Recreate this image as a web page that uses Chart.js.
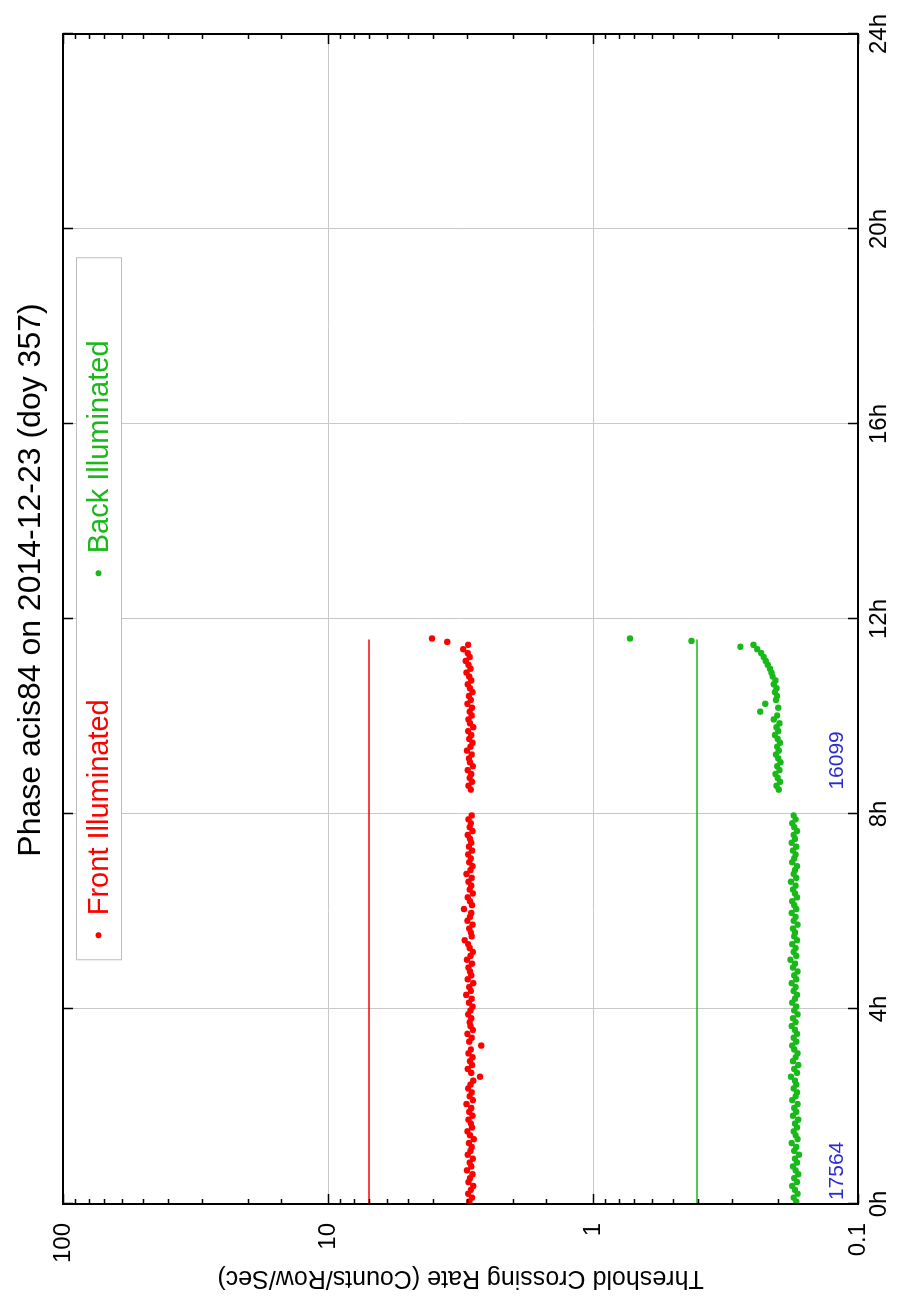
<!DOCTYPE html>
<html>
<head>
<meta charset="utf-8">
<script src="https://cdn.jsdelivr.net/npm/chart.js@4.4.1/dist/chart.umd.min.js"></script>
<style>
  html, body { margin: 0; padding: 0; background: #fff; overflow: hidden; }
  #wrap {
    position: absolute; left: 0; top: 0;
    width: 1296px; height: 899px;
    transform-origin: 0 0;
    transform: translateY(1296px) rotate(-90deg);
  }
  canvas { display: block; }
</style>
</head>
<body>
<div id="wrap"><canvas id="c" width="1296" height="899"></canvas></div>
<script>
// time in hours, rates in counts/row/sec
const titleText = "Phase acis84 on 2014-12-23 (doy 357)";
const xTickStep = 4;
const yTickValues = [0.1, 1, 10, 100];
const yTickLabels = ["0.1", "1", "10", "100"];

// first obsid 0h - 8h
const timesA = [
  0.05,0.13,0.21,0.29,0.37,0.45,0.53,0.61,0.69,0.77,
  0.85,0.93,1.01,1.09,1.17,1.25,1.33,1.41,1.49,1.57,
  1.65,1.73,1.81,1.89,1.97,2.05,2.13,2.21,2.29,2.37,
  2.45,2.53,2.61,2.69,2.77,2.85,2.93,3.01,3.09,3.17,
  3.25,3.33,3.41,3.49,3.57,3.65,3.73,3.81,3.89,3.97,
  4.05,4.13,4.21,4.29,4.37,4.45,4.53,4.61,4.69,4.77,
  4.85,4.93,5.01,5.09,5.17,5.25,5.33,5.41,5.49,5.57,
  5.65,5.73,5.81,5.89,5.97,6.05,6.13,6.21,6.29,6.37,
  6.45,6.53,6.61,6.69,6.77,6.85,6.93,7.01,7.09,7.17,
  7.25,7.33,7.41,7.49,7.57,7.65,7.73,7.81,7.89,7.97
];
const frontA = [
  2.93,2.86,2.96,2.89,2.83,2.95,2.91,2.85,2.99,2.88,
  2.92,2.84,2.97,2.90,2.87,2.94,2.82,2.91,2.98,2.86,
  2.89,2.95,2.85,2.93,2.88,3.00,2.84,2.92,2.87,2.96,
  2.90,2.83,2.67,2.88,2.97,2.86,2.91,2.85,2.95,2.89,
  2.64,2.93,2.87,2.98,2.84,2.90,2.92,2.88,2.96,2.90,
  2.85,2.94,2.87,3.01,2.89,2.93,2.83,2.97,2.88,2.91,
  2.95,2.86,2.99,2.90,2.84,2.92,2.96,3.05,2.87,2.89,
  2.93,2.85,2.98,2.91,2.88,3.07,2.86,2.91,2.97,2.84,
  2.92,2.88,2.95,2.87,3.00,2.90,2.85,2.93,2.89,2.96,
  2.86,2.94,2.88,2.91,2.97,2.85,2.92,2.89,2.95,2.87
];
const backA = [
  0.171,0.175,0.169,0.173,0.177,0.170,0.174,0.168,0.172,0.176,
  0.170,0.173,0.167,0.174,0.171,0.178,0.169,0.172,0.175,0.170,
  0.173,0.168,0.176,0.171,0.174,0.169,0.177,0.172,0.170,0.175,
  0.171,0.173,0.179,0.170,0.174,0.168,0.176,0.172,0.169,0.174,
  0.177,0.171,0.175,0.170,0.173,0.178,0.172,0.176,0.169,0.174,
  0.171,0.177,0.173,0.170,0.175,0.172,0.178,0.171,0.174,0.169,
  0.176,0.173,0.180,0.171,0.175,0.172,0.177,0.170,0.174,0.173,
  0.176,0.169,0.175,0.172,0.178,0.171,0.174,0.177,0.170,0.173,
  0.176,0.172,0.179,0.171,0.175,0.173,0.170,0.177,0.174,0.172,
  0.176,0.171,0.178,0.173,0.175,0.170,0.174,0.177,0.172,0.175
];

// second obsid 8.5h - 11.6h
const timesB = [
  8.50,8.58,8.66,8.74,8.82,8.90,8.98,9.06,9.14,9.22,
  9.30,9.38,9.46,9.54,9.62,9.70,9.78,9.86,9.94,10.02,
  10.10,10.18,10.26,10.34,10.42,10.50,10.58,10.66,10.74,10.82,
  10.90,10.98,11.06,11.14,11.22,11.30,11.38
];
const frontB = [
  2.89,2.95,2.86,2.92,2.88,2.97,2.84,2.91,2.94,2.87,
  2.99,2.90,2.85,2.93,2.88,2.96,2.83,2.91,2.95,2.87,
  2.92,2.86,2.98,2.89,2.94,2.85,2.91,2.97,2.88,2.93,
  3.00,2.90,2.95,3.02,2.92,2.97,3.09
];
const backB = [
  0.199,0.203,0.197,0.201,0.205,0.198,0.202,0.196,0.200,0.204,
  0.199,0.202,0.197,0.201,0.206,0.200,0.203,0.198,0.208,0.202,
  0.234,0.200,0.224,0.204,0.202,0.206,0.203,0.208,0.205,0.210,
  0.212,0.215,0.219,0.223,0.227,0.232,0.240
];
// last few samples at the end of the second obsid
const frontEndTimes = [11.47, 11.53, 11.60];
const frontEnd = [2.96, 3.55, 4.05];
const backEndTimes = [11.43, 11.47, 11.55, 11.60];
const backEnd = [0.278, 0.248, 0.425, 0.725];

// limit lines
const limitEnd = 11.58;
const frontLimit = 7.0;
const backLimit = 0.405;

// obsid labels
const runStarts = [0.08, 8.5];
const runLabels = ["17564", "16099"];

const RED = "#ff0000";
const GREEN = "#19b919";
const FONT = "'Liberation Sans', Arial, sans-serif";

function pts(xs, ys) {
  return xs.map((x, i) => ({x: x, y: ys[i]}));
}
function isDecade(v) {
  const l = Math.log10(v);
  return Math.abs(l - Math.round(l)) < 1e-6;
}

const frame = {
  id: "frame",
  afterDraw(chart) {
    const ctx = chart.ctx, a = chart.chartArea;
    const xs = chart.scales.x, ys = chart.scales.y;
    ctx.save();

    // title
    ctx.fillStyle = "#000";
    ctx.font = "32px " + FONT;
    ctx.textAlign = "center";
    ctx.textBaseline = "middle";
    ctx.fillText(titleText, 716, 31);

    // legend box
    const lx = xs.getPixelForValue(5.0), lw = xs.getPixelForValue(19.4) - lx;
    const ly = a.top + 13, lh = 45;
    ctx.fillStyle = "#fff";
    ctx.fillRect(lx, ly, lw, lh);
    ctx.strokeStyle = "#bdbdbd";
    ctx.lineWidth = 1;
    ctx.strokeRect(lx + 0.5, ly + 0.5, lw, lh);
    const items = chart.data.datasets.filter(d => d.legend);
    const offs = [25, 387];
    ctx.font = "29px " + FONT;
    ctx.textAlign = "left";
    items.forEach((d, i) => {
      const px = lx + offs[i];
      ctx.fillStyle = d.backgroundColor;
      ctx.beginPath();
      ctx.arc(px, ly + lh / 2, 3, 0, Math.PI * 2);
      ctx.fill();
      ctx.fillText(d.label, px + 20, ly + lh / 2 + 1);
    });

    // inner ticks
    ctx.strokeStyle = "#000";
    ctx.lineWidth = 1.5;
    ctx.beginPath();
    ys.ticks.forEach(t => {
      const p = Math.round(ys.getPixelForValue(t.value)) + 0.5;
      const len = isDecade(t.value) ? 10 : 5;
      ctx.moveTo(a.left, p); ctx.lineTo(a.left + len, p);
      ctx.moveTo(a.right, p); ctx.lineTo(a.right - len, p);
    });
    xs.ticks.forEach(t => {
      const p = Math.round(xs.getPixelForValue(t.value)) + 0.5;
      ctx.moveTo(p, a.bottom); ctx.lineTo(p, a.bottom - 10);
      ctx.moveTo(p, a.top); ctx.lineTo(p, a.top + 10);
    });
    ctx.stroke();

    // border
    ctx.lineWidth = 2;
    ctx.strokeRect(a.left, a.top, a.right - a.left, a.bottom - a.top);

    // obsid labels
    ctx.fillStyle = "#2b2bd0";
    ctx.font = "21px " + FONT;
    ctx.textBaseline = "alphabetic";
    ctx.textAlign = "left";
    runLabels.forEach((s, i) => {
      ctx.fillText(s, xs.getPixelForValue(runStarts[i]), a.bottom - 15);
    });
    ctx.restore();
  }
};

new Chart(document.getElementById("c"), {
  type: "scatter",
  data: {
    datasets: [
      {label: "Front Illuminated", legend: true,
       data: pts(timesA, frontA).concat(pts(timesB, frontB), pts(frontEndTimes, frontEnd)),
       backgroundColor: RED, borderWidth: 0, pointRadius: 3.2},
      {label: "Back Illuminated", legend: true,
       data: pts(timesA, backA).concat(pts(timesB, backB), pts(backEndTimes, backEnd)),
       backgroundColor: GREEN, borderWidth: 0, pointRadius: 3.2},
      {label: "fi limit", data: [{x: 0, y: frontLimit}, {x: limitEnd, y: frontLimit}],
       showLine: true, borderColor: RED, borderWidth: 1.5, pointRadius: 0},
      {label: "bi limit", data: [{x: 0, y: backLimit}, {x: limitEnd, y: backLimit}],
       showLine: true, borderColor: GREEN, borderWidth: 1.5, pointRadius: 0}
    ]
  },
  options: {
    responsive: false,
    animation: false,
    devicePixelRatio: 1,
    layout: {padding: {top: 63, right: 34, left: 0, bottom: 0}},
    plugins: {
      legend: {display: false},
      tooltip: {enabled: false},
      title: {display: false}
    },
    scales: {
      x: {
        type: "linear", position: "bottom", min: 0, max: 24,
        ticks: {stepSize: xTickStep, callback: v => v + "h", color: "#000",
                font: {family: FONT, size: 24}, padding: 7, maxRotation: 0},
        grid: {color: "#c8c8c8", drawTicks: false},
        border: {display: false},
        afterFit: s => { s.height = 41; }
      },
      y: {
        type: "logarithmic", position: "left", min: 0.1, max: 100,
        ticks: {
          autoSkip: false, color: "#000", padding: 19,
          font: {family: FONT, size: 24},
          callback: v => {
            const i = yTickValues.findIndex(t => Math.abs(t - v) < 1e-9 * Math.max(1, t));
            return i >= 0 ? yTickLabels[i] : "";
          }
        },
        grid: {color: c => isDecade(c.tick.value) ? "#c8c8c8" : "rgba(0,0,0,0)", drawTicks: false},
        border: {display: false},
        title: {display: true, text: "Threshold Crossing Rate (Counts/Row/Sec)", color: "#000",
                font: {family: FONT, size: 25}, padding: {top: 3, bottom: 0}},
        afterFit: s => { s.width = 92; }
      }
    }
  },
  plugins: [frame]
});
</script>
</body>
</html>
